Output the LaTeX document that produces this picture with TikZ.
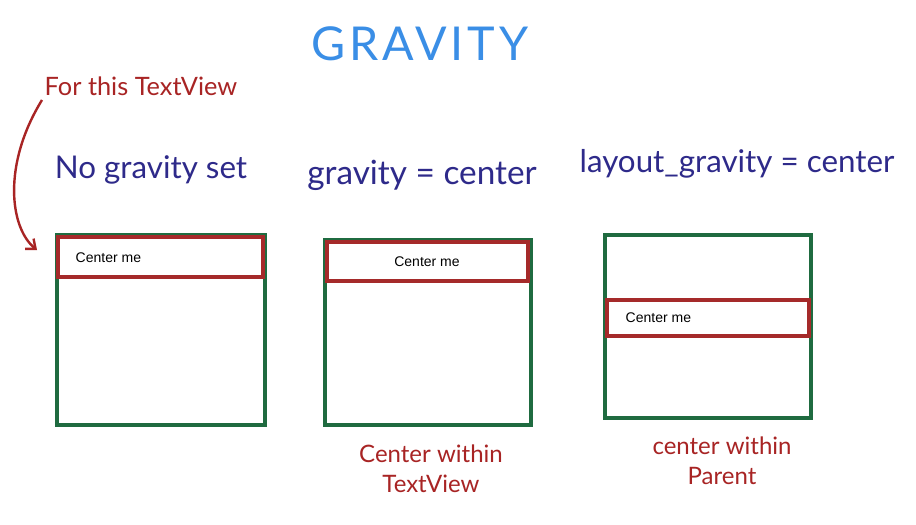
\documentclass[tikz,border=0pt]{standalone}
\usepackage{fontspec}
\setmainfont{Lato}
\newfontfamily\uifont{Liberation Sans}
\usetikzlibrary{arrows.meta}
\definecolor{titleblue}{HTML}{3A8EE6}
\definecolor{navy}{HTML}{2E2A8A}
\definecolor{hred}{HTML}{A82424}
\definecolor{boxgreen}{HTML}{1F6B40}
\definecolor{tvred}{HTML}{A52A2A}
\tikzset{
  outerbox/.style={draw=boxgreen, line width=2.6pt},
  tvbox/.style={draw=tvred, line width=2.4pt, fill=white},
  tvtext/.style={font=\uifont\fontsize{10.5}{12}\selectfont, text=black},
  heading/.style={font=\fontsize{23.5}{28}\selectfont, text=navy},
  note/.style={font=\fontsize{18}{22.5}\selectfont, text=hred, align=center},
}
\begin{document}
\begin{tikzpicture}[x=0.75pt,y=-0.75pt]
\useasboundingbox[fill=white] (0,0) rectangle (916,524);
% title
\node[font=\fontsize{35}{40}\selectfont\addfontfeatures{LetterSpace=8}, text=titleblue] (title) at (420,44) {GRAVITY};
% headings
\node[heading] (h1) at (151,170) {No gravity set};
\node[heading, font=\fontsize{25}{30}\selectfont] (h2) at (422,175) {gravity = center};
\node[heading] (h3) at (737,164) {layout\_gravity = center};
% note
\node[note, anchor=west, font=\fontsize{19}{22}\selectfont] (for) at (40,86) {For this TextView};
% boxes
\draw[outerbox] (57,235) rectangle (265,425);
\draw[tvbox] (58,237) rectangle (263,277);
\node[tvtext, anchor=west] (t1) at (71,258) {Center me};
\draw[outerbox] (325,240) rectangle (531,425);
\draw[tvbox] (327,242) rectangle (528,281);
\node[tvtext] (t2) at (427,262) {Center me};
\draw[outerbox] (605,235) rectangle (811,418);
\draw[tvbox] (607,300) rectangle (809,336);
\node[tvtext, anchor=west] (t3) at (621,318) {Center me};
% arrow
\coordinate (as) at (42,100);
\coordinate (ae) at (37,250);
\draw[hred, line width=1.8pt, -{Straight Barb[length=6pt,width=10pt]}] (as) .. controls (2,165) and (10,228) .. (ae);
% bottom notes
\node[note] (n2) at (431,469) {Center within\\TextView};
\node[note] (n3) at (722,461) {center within\\Parent};
\end{tikzpicture}
\end{document}
